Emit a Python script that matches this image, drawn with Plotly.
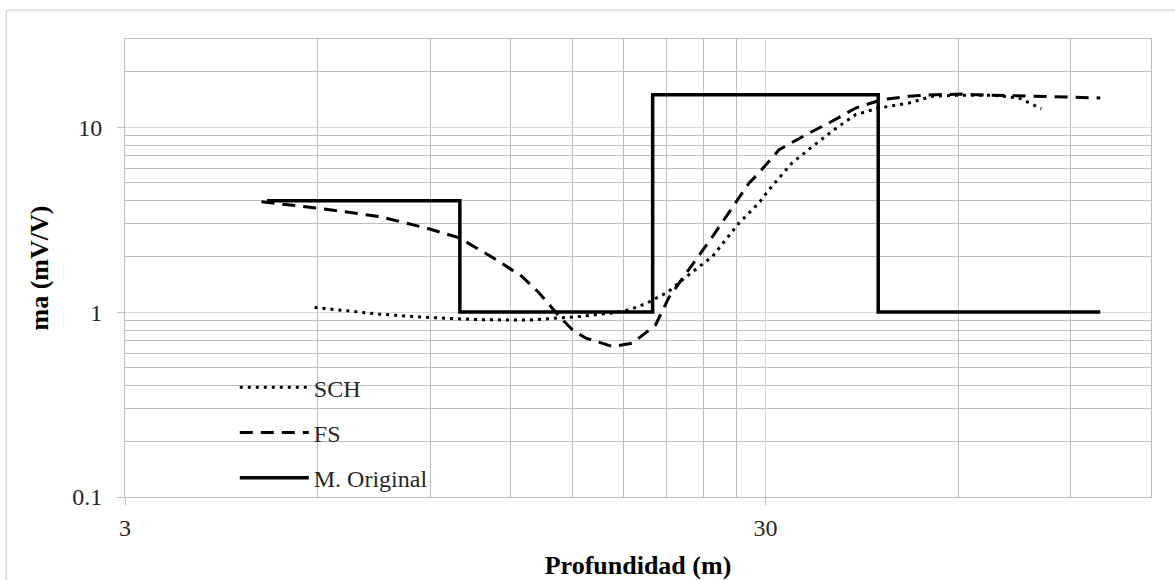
import plotly.graph_objects as go

# Curva SCH (Schlumberger)
depth_sch = [5.93, 7.48, 8.96, 10.7, 12.8, 15.4, 17.3, 18.4, 19.5, 20.5, 21.1, 22.6, 24.8,
             27.3, 29.3, 30.4, 33.0, 35.5, 38.4, 41.5, 45.1, 50.2, 54.6, 60.1, 67.7, 74.6, 80.9]
ma_sch = [1.06, 0.975, 0.935, 0.91, 0.905, 0.947, 0.99, 1.03, 1.11, 1.21, 1.28, 1.56, 2.0,
          3.04, 3.89, 4.6, 6.4, 7.85, 9.7, 11.7, 12.7, 13.5, 14.7, 14.9, 14.9, 14.4, 12.6]

# Curva FS
depth_fs = [4.9, 6.0, 7.48, 8.86, 9.98, 10.6, 11.4, 12.5, 13.3, 14.3, 15.0, 15.7, 17.3, 18.6,
            20.2, 21.2, 22.2, 24.8, 28.3, 29.3, 31.5, 34.7, 38.0, 41.5, 45.6, 50.2, 55.4, 60.8,
            67.7, 82.2, 100]
ma_fs = [3.95, 3.65, 3.29, 2.85, 2.52, 2.23, 1.92, 1.56, 1.27, 0.947, 0.80, 0.726, 0.651, 0.68,
         0.85, 1.2, 1.5, 2.56, 5.0, 5.66, 7.55, 9.1, 10.7, 12.7, 14.1, 14.7, 15.0, 15.1,
         14.9, 14.7, 14.4]

# Modelo original (capas)
depth_mod = [5, 10, 10, 20, 20, 45, 45, 100]
ma_mod = [4, 4, 1, 1, 15, 15, 1, 1]

x_ticks = [3, 30]
x_labels = ["3", "30"]
x_minor = [6, 9, 12, 15, 18, 21, 24, 27, 60, 90, 120]
y_ticks = [0.1, 1, 10]
y_labels = ["0.1", "1", "10"]
y_minor = [0.2, 0.3, 0.4, 0.5, 0.6, 0.7, 0.8, 0.9, 2, 3, 4, 5, 6, 7, 8, 9, 20, 30]

FONT = "Liberation Serif"

fig = go.Figure()
fig.add_trace(go.Scatter(x=depth_sch, y=ma_sch, mode="lines", name="SCH", legendgroup="a",
                         line=dict(color="black", width=3, dash="3px,5px")))
fig.add_trace(go.Scatter(x=depth_fs, y=ma_fs, mode="lines", name="FS", legendgroup="b",
                         line=dict(color="black", width=3, dash="13px,8px")))
fig.add_trace(go.Scatter(x=depth_mod, y=ma_mod, mode="lines", name="M. Original", legendgroup="c",
                         line=dict(color="black", width=3.5)))

axis_common = dict(
    type="log", automargin=False,
    showline=True, mirror=True, linecolor="#bfbfbf", linewidth=1,
    gridcolor="#d9d9d9", gridwidth=1,
    ticks="outside", ticklen=7, tickcolor="#bfbfbf",
    tickfont=dict(family=FONT, size=24, color="#262626"),
    zeroline=False,
)

fig.update_xaxes(
    **axis_common,
    range=[0.47712, 2.07918],
    tickmode="array", tickvals=x_ticks, ticktext=x_labels,
    minor=dict(tickmode="array", tickvals=x_minor, showgrid=True,
               gridcolor="#bfbfbf", gridwidth=1, ticks=""),
    ticklabelstandoff=2,
    title=dict(text="<b>Profundidad (m)</b>",
               font=dict(family=FONT, size=26, color="black"), standoff=20),
)
fig.update_yaxes(
    **axis_common,
    range=[-1, 1.47712],
    tickmode="array", tickvals=y_ticks, ticktext=y_labels,
    minor=dict(tickmode="array", tickvals=y_minor, showgrid=True,
               gridcolor="#bfbfbf", gridwidth=1, ticks=""),
    ticklabelstandoff=10,
    title=dict(text="<b>ma (mV/V)</b>",
               font=dict(family=FONT, size=26, color="black"), standoff=16),
)

fig.update_layout(
    width=1175, height=580, autosize=False,
    margin=dict(l=125, r=24, t=39, b=83),
    paper_bgcolor="white", plot_bgcolor="white",
    showlegend=True,
    legend=dict(x=0.107, y=-0.007, xanchor="left", yanchor="bottom",
                bgcolor="rgba(0,0,0,0)", itemwidth=69, tracegroupgap=11,
                font=dict(family=FONT, size=24, color="#262626")),
    shapes=[dict(type="rect", xref="paper", yref="paper",
                 x0=-0.1156, x1=1.05, y0=-0.25, y1=1.063,
                 line=dict(color="#d9d9d9", width=1.5), fillcolor="rgba(0,0,0,0)",
                 layer="below")],
)

fig.write_html("out.html")
